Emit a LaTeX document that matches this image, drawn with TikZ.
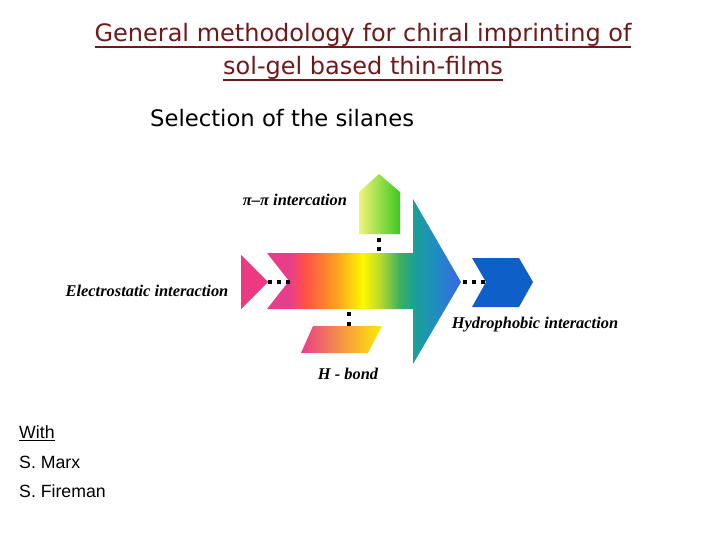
\documentclass[tikz,border=0pt]{standalone}
\usepackage{fontspec}
\setmainfont{Liberation Serif}
\newfontfamily\titlefont{DejaVu Sans}
\newfontfamily\arialfont{Liberation Sans}
\definecolor{titlered}{RGB}{110,26,26}
\definecolor{cpink}{RGB}{232,62,138}
\definecolor{cred}{RGB}{255,80,70}
\definecolor{corange}{RGB}{255,160,32}
\definecolor{cyellow}{RGB}{255,248,0}
\definecolor{cygreen}{RGB}{180,216,48}
\definecolor{cgreen}{RGB}{60,176,96}
\definecolor{cteal}{RGB}{26,160,150}
\definecolor{ctealblue}{RGB}{32,140,196}
\definecolor{cblue}{RGB}{58,100,230}
\definecolor{chevblue}{RGB}{14,96,200}
\definecolor{lightyel}{RGB}{242,244,120}
\definecolor{pgreen}{RGB}{60,200,30}
\definecolor{tripink}{RGB}{236,58,130}
% custom underline: #1 depth below baseline, #2 thickness, #3 text
\newcommand\myuline[3]{\setbox0\hbox{#3}\rlap{\rule[-#1]{\wd0}{#2}}\box0}
\tikzset{
  lbl/.style={font=\fontsize{16.4}{18}\selectfont\bfseries\itshape, inner sep=0pt},
  dots/.style={line width=4pt, dash pattern=on 4pt off 5pt},
  credit/.style={font=\arialfont\fontsize{17.7}{20}\selectfont, anchor=base west, inner sep=0pt},
  titletxt/.style={font=\titlefont\fontsize{24}{28}\selectfont, text=titlered, inner sep=0pt, anchor=base}
}
\begin{document}
\begin{tikzpicture}[x=1pt,y=-1pt]
\useasboundingbox (0,0) rectangle (720,540);
% titles
\node[titletxt] (t1) at (363,42) {\myuline{6pt}{2pt}{General methodology for chiral imprinting of}};
\node[titletxt] (t2) at (363,75) {\myuline{6pt}{2pt}{sol-gel based thin-films}};
\node[font=\titlefont\fontsize{22.7}{26}\selectfont, anchor=base west, inner sep=0pt] (sel) at (150,127) {Selection of the silanes};
% main rainbow arrow
\begin{scope}
\clip (267,253) -- (413,253) -- (413,199) -- (461,282) -- (413,364) -- (413,309) -- (267,309) -- (289,281) -- cycle;
\shade[left color=cpink, right color=cpink] (266,195) rectangle (290,370);
\shade[left color=cpink, right color=cred] (289.5,195) rectangle (305,370);
\shade[left color=cred, right color=corange] (304.5,195) rectangle (337,370);
\shade[left color=corange, right color=cyellow] (336.5,195) rectangle (363,370);
\shade[left color=cyellow, right color=cygreen] (362.5,195) rectangle (381,370);
\shade[left color=cygreen, right color=cgreen] (380.5,195) rectangle (400,370);
\shade[left color=cgreen, right color=cteal] (399.5,195) rectangle (414,370);
\shade[left color=cteal, right color=ctealblue] (413.5,195) rectangle (437,370);
\shade[left color=ctealblue, right color=cblue] (436.5,195) rectangle (462,370);
\end{scope}
\coordinate (notch) at (290,282);
\coordinate (bodytop) at (379,253);
\coordinate (bodybot) at (349,309);
\coordinate (tip) at (463,282);
% left triangle
\fill[tripink] (241,255) -- (268,282) -- (241,309) -- cycle;
\coordinate (tritip) at (268,282);
% top pentagon
\shade[left color=lightyel, right color=pgreen] (359,234) -- (359,192) -- (379,174) -- (400,192) -- (400,234) -- cycle;
\coordinate (pentbot) at (379,238);
% parallelogram
\shade[left color=cpink, middle color=corange!80!red, right color=cyellow!90!orange] (313,326) -- (382,326) -- (368,353) -- (301,353) -- cycle;
\coordinate (parTop) at (349,326);
\coordinate (parDotStart) at (349,312);
% blue chevron
\fill[chevblue] (472,258) -- (519,258) -- (533,282) -- (519,307) -- (472,307) -- (486,282) -- cycle;
\coordinate (chevnotch) at (486,282);
% connectors
\draw[dots] (tritip) -- (notch);
\draw[dots] (pentbot) -- (bodytop);
\draw[dots, dash pattern=on 4pt off 6pt] (parDotStart) -- (parTop);
\draw[dots] (tip) -- (chevnotch);
% labels
\node[lbl] (lpi) at (295,200) {π–π intercation};
\node[lbl] (lel) at (147,291) {Electrostatic interaction};
\node[lbl] (lhy) at (535,325) {Hydrophobic interaction};
\node[lbl] (lhb) at (348,374) {H - bond};
% credits
\node[credit] (w) at (19,438) {\myuline{2.5pt}{1pt}{With}};
\node[credit] (m) at (19,468) {S. Marx};
\node[credit] (f) at (19,497) {S. Fireman};
\end{tikzpicture}
\end{document}
